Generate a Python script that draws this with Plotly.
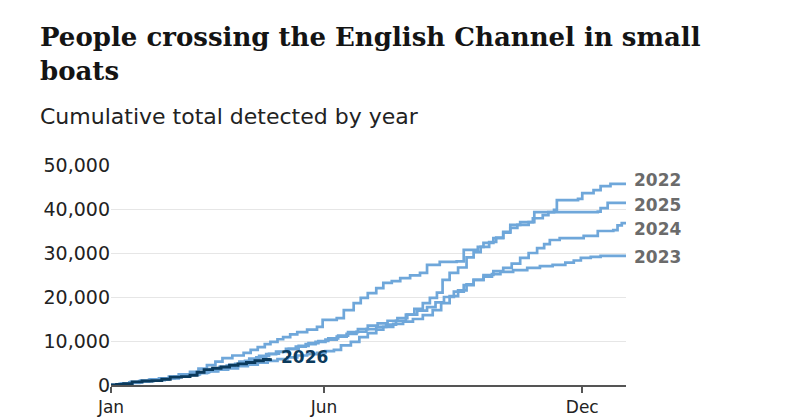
import plotly.graph_objects as go

# ---- data (day of year, cumulative people) ----
days_2022 = [0, 8, 15, 22, 30, 38, 45, 52, 60, 68, 75, 82, 88, 95, 103, 110, 117, 124, 131, 138,
             145, 152, 160, 167, 174, 181, 188, 195, 202, 209, 215, 221, 226, 231, 235, 240, 246,
             252, 257, 262, 268, 273, 278, 283, 288, 296, 300, 314, 316, 331, 334, 342, 347, 354, 365]
vals_2022 = [0, 300, 600, 900, 1100, 1500, 1900, 2300, 2700, 3200, 3700, 4400, 4800, 5500, 6300,
             7000, 7600, 8200, 8700, 9300, 9800, 10300, 11000, 11600, 12100, 12700, 13200, 13700,
             14600, 16000, 17300, 18600, 19800, 21000, 23900, 25500, 26700, 29000, 30200, 31400,
             32500, 33500, 34600, 35700, 36400, 37000, 39300, 39800, 42000, 42300, 43600, 44300,
             45200, 45700, 45800]

days_2023 = [0, 6, 13, 20, 27, 34, 41, 48, 55, 62, 69, 76, 83, 90, 97, 104, 111, 118, 125, 132,
             139, 146, 152, 158, 163, 170, 176, 182, 188, 193, 200, 207, 214, 221, 228, 234, 240,
             246, 252, 257, 264, 270, 276, 285, 295, 304, 313, 322, 328, 333, 340, 347, 365]
vals_2023 = [0, 200, 500, 800, 1000, 1200, 1500, 1900, 2300, 2800, 3100, 3500, 3800, 4300, 4600,
             5100, 5500, 5900, 6300, 6700, 7000, 7300, 7700, 8000, 9000, 9800, 10900, 11800, 12600,
             13200, 13900, 14400, 15000, 15900, 17000, 18600, 20200, 21500, 22900, 23900, 24600,
             25200, 25700, 26100, 26600, 27000, 27300, 27800, 28300, 28900, 29100, 29350, 29440]

days_2024 = [0, 7, 14, 21, 28, 35, 42, 49, 56, 63, 70, 77, 84, 91, 98, 105, 112, 119, 126, 133,
             140, 147, 154, 161, 168, 175, 182, 189, 196, 203, 210, 217, 224, 230, 236, 243, 250,
             257, 264, 271, 278, 284, 290, 296, 302, 307, 311, 318, 335, 345, 356, 359, 362, 365]
vals_2024 = [0, 300, 700, 1000, 1300, 1500, 1800, 2100, 2400, 3000, 3600, 4100, 4600, 5300, 6000,
             6600, 7100, 7500, 8200, 8900, 9500, 10000, 10600, 11200, 12000, 12700, 13500, 14000,
             14600, 15200, 16000, 16900, 17700, 18800, 20000, 21200, 22700, 23900, 25000, 25900,
             26600, 27600, 28900, 30000, 31100, 32000, 32950, 33400, 33900, 35000, 35200, 36300,
             36800, 36820]

days_2025 = [0, 6, 13, 20, 27, 34, 41, 48, 56, 62, 68, 74, 79, 86, 94, 99, 104, 109, 113, 118,
             122, 127, 132, 139, 146, 150, 160, 165, 172, 177, 182, 188, 193, 199, 205, 212, 219,
             224, 233, 245, 250, 260, 264, 271, 278, 283, 290, 299, 306, 310, 345, 347, 352, 365]
vals_2025 = [0, 200, 600, 900, 1200, 1500, 1900, 2400, 3000, 3700, 4500, 5300, 6100, 6700, 7300,
             8000, 8600, 9300, 9800, 10400, 10900, 11500, 12000, 12600, 13200, 14800, 15200,
             17000, 18600, 19800, 20900, 22000, 23200, 23600, 24300, 24900, 25500, 27300, 28000,
             28100, 30700, 31400, 32300, 33400, 34800, 36400, 37000, 37900, 38600, 39300, 39400,
             40200, 41400, 41450]

days_2026 = [0, 4, 9, 15, 22, 29, 36, 42, 50, 56, 61, 66, 72, 78, 84, 90, 96, 102, 108, 113]
vals_2026 = [0, 100, 300, 700, 900, 1000, 1300, 1800, 1900, 2200, 2900, 3500, 3800, 4100, 4500,
             4800, 5100, 5500, 5800, 6100]

tick_days = [0, 151, 334]
tick_labels = ["Jan", "Jun", "Dec"]
y_ticks = [0, 10000, 20000, 30000, 40000, 50000]

past_years = ["2022", "2023", "2024", "2025"]
past_days = [days_2022, days_2023, days_2024, days_2025]
past_vals = [vals_2022, vals_2023, vals_2024, vals_2025]
label_shift = {"2022": 3, "2023": -2, "2024": -6, "2025": -2}

LIGHT = "#6fa7da"
DARK = "#0b3a5c"
SANS = "DejaVu Sans"

# page has an 8px body margin, so the figure is 8px smaller and offsets are in figure px
OFF = 8
W, H = 800 - OFF, 420 - OFF
plot_l, plot_r, plot_t, plot_b = 111 - OFF, 626 - OFF, 165 - OFF, 385 - OFF


def px_x(x):
    return (x - OFF - plot_l) / (plot_r - plot_l)


def px_y(y):
    return (plot_b - (y - OFF)) / (plot_b - plot_t)


fig = go.Figure()
for yr, d, v in zip(past_years, past_days, past_vals):
    fig.add_trace(go.Scatter(x=d, y=v, mode="lines", name=yr,
                             line=dict(color=LIGHT, width=2.7, shape="hv"),
                             hoverinfo="skip", showlegend=False))
fig.add_trace(go.Scatter(x=days_2026, y=vals_2026, mode="lines", name="2026",
                         line=dict(color=DARK, width=2.9, shape="hv"),
                         hoverinfo="skip", showlegend=False))

annotations = []
for yr, d, v in zip(past_years, past_days, past_vals):
    annotations.append(dict(x=d[-1], y=v[-1], xref="x", yref="y", text=f"<b>{yr}</b>",
                            showarrow=False, xanchor="left", yanchor="middle",
                            xshift=6, yshift=label_shift[yr],
                            font=dict(family=SANS, size=17, color="#6b6b6b")))
annotations.append(dict(x=days_2026[-1], y=vals_2026[-1], xref="x", yref="y", text="<b>2026</b>",
                        showarrow=False, xanchor="left", yanchor="middle", xshift=9, yshift=1,
                        font=dict(family=SANS, size=17, color=DARK)))
annotations.append(dict(x=px_x(38), y=px_y(20), xref="paper", yref="paper",
                        text="<b>People crossing the English Channel in small<br>boats</b>",
                        showarrow=False, xanchor="left", yanchor="top", align="left",
                        font=dict(family="DejaVu Serif", size=26, color="#141414")))
annotations.append(dict(x=px_x(38), y=px_y(117), xref="paper", yref="paper",
                        text="Cumulative total detected by year", showarrow=False,
                        xanchor="left", yanchor="middle",
                        font=dict(family=SANS, size=22, color="#222222")))

fig.update_layout(
    width=W, height=H,
    margin=dict(l=plot_l, r=W - plot_r, t=plot_t, b=H - plot_b, autoexpand=False),
    paper_bgcolor="white", plot_bgcolor="white",
    xaxis=dict(range=[0, 365], tickvals=tick_days, ticktext=tick_labels, automargin=False,
               showgrid=False, zeroline=False, showline=True, linecolor="#555555",
               linewidth=1.5, ticks="outside", ticklen=6, tickwidth=1.5, tickcolor="#555555",
               tickfont=dict(family=SANS, size=17, color="#222222"), fixedrange=True),
    yaxis=dict(range=[0, 50000], tickvals=y_ticks, tickformat=",", automargin=False,
               showgrid=True, gridcolor="#e6e6e6", gridwidth=1, zeroline=False,
               showline=False, ticks="", tickfont=dict(family=SANS, size=19, color="#222222"),
               fixedrange=True),
    annotations=annotations,
)

fig.write_html("out.html")
